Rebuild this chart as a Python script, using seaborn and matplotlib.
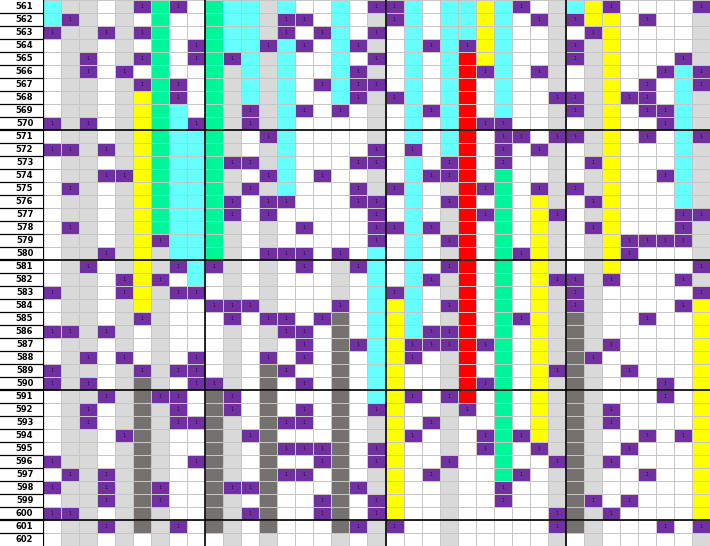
import numpy as np
import pandas as pd
import matplotlib
matplotlib.use("Agg")
import matplotlib.pyplot as plt
from matplotlib.colors import ListedColormap
import seaborn as sns

# row labels (left column)
row_labels = [
    "561", "562", "563", "564", "565", "566", "567", "568", "569", "570",
    "571", "572", "573", "574", "575", "576", "577", "578", "579", "580",
    "581", "582", "583", "584", "585", "586", "587", "588", "589", "590",
    "591", "592", "593", "594", "595", "596", "597", "598", "599", "600",
    "601", "602",
]

# cell states per row, one letter per column (37 columns)
# W white, G light gray, P purple "1", C cyan, N green, Y yellow, R red, D dark gray
cell_rows = [
    "CGGWGPNPWN" "CCGCWWCWPP" "CWCCYCPWGC" "YPWWWWP",
    "CPGWGWNWWN" "CCGPPWCWGP" "CWCCYCWPGP" "YYWPWWG",
    "PGGPGPNWWN" "CCGPWPCWPW" "CWCCYCWWGW" "PYWWWWG",
    "WGGWGWNWPN" "CCPCPWCPGW" "CPCPYCWWGP" "GYWWWWG",
    "WGPWGPNWPN" "PCGCWWCWPW" "CWCRYCWWGP" "GYWWWPG",
    "WGPWPWNWWN" "GCGCWWCPGW" "CWCRPCWPGW" "GYWWPCP",
    "WGGWGPNPWN" "GCGCWPCPPW" "CWCRWCWWGW" "GYWPWCP",
    "WGGWGYNPWN" "GCGCWWCPGP" "CWCRWCWWPP" "GYPPWCG",
    "WGGWGYNCWN" "GPGCPWPWGW" "CPCRWCWWGP" "GYWPPCG",
    "PGPWGYNCPN" "GPGCWWWWGW" "CWCRPPWWGW" "GYWWPCG",
    "WGGWGYNCCN" "GWPCWWWWGW" "CWCRWPPWPP" "GYWPWCP",
    "PPGPGYNCCN" "GWGCWWWWPW" "PWCRWPWPGW" "GYWWWCG",
    "WGGWGYNCCN" "PPGCWWWPPW" "CWPRWPWWGW" "PYWWWCG",
    "WGGPPYNCCN" "GWPCWPWWGW" "CPPRWNWWGW" "GYWWPCG",
    "WPGWGYNCCN" "GPGCWWWPGP" "CWGRPNWPGP" "GYWWWCG",
    "WGGWGYNCCN" "PWPPWWWPPW" "CWPRWNWYGW" "PYWWWCG",
    "WGGWGYNCCN" "PWPWWWWWPW" "CWGRPNWYPW" "GYWWWPP",
    "WPGWGYNCCN" "GWGWPWWWPP" "CPGRWNWYGW" "PYWWWPG",
    "WGGWGYPCCN" "GWGWWWWWPW" "CWPRWNWYGW" "GYPPPPG",
    "WGGPGYGCCN" "GWPPPWPWCW" "CWGRWNPYGW" "GYPWWWG",
    "WGPWGYGPCP" "GWGWPWGPCW" "CWPRWNWYGW" "GYWWWWP",
    "WGGWPYPWCW" "GWGWWWGWCW" "CPGRWNWYPP" "GPWWWPG",
    "PGGWPYGPPW" "GWGWWWGWCP" "CWGRWNWYGP" "GWWWWWP",
    "WGGWGYGWWP" "PPGWWWPWCY" "CWPRWNWYGP" "GWWWWPY",
    "WGGWGPGWWW" "PWPPWPDWCY" "CWGRWNPYGD" "GWWPWWY",
    "PPGPGWGWWW" "GWGPPWDWCY" "CPPRWNWYGD" "GWWWWWY",
    "WGGWGWGWWW" "GWGWPWDPCY" "PPPRPNWYGD" "GPWWWWY",
    "WGPWPWGWPW" "GWPWPWDWCY" "PWGRWNWYGD" "PWWWWWY",
    "PGGWGPGPPW" "GWDPWWDWCY" "WWGRWNWYPD" "GWPWWWY",
    "PGPWGDGWPP" "GWDWPWDWCY" "WWGRPNWYGD" "GWWWPWY",
    "WGGPGDPPWD" "PWDWWWDWCY" "PWPRWNWYGD" "GWWWPWY",
    "WGPWGDGPWD" "PWDWPWDWPY" "WWGPWNWYGD" "GPWWWWY",
    "WGPWGDGPPD" "GWDPPWDWGY" "WPGWWNWYGD" "GPWWWWY",
    "WGGWPDGWWD" "GPDWWWDWGY" "PWGWPNPYGD" "GWWPWPY",
    "WGGWGDGWWD" "GWDPPPDWPY" "WWGWPNWPGD" "GWPWWWY",
    "PGGWGDGWPD" "GWDWWPDWPY" "WWPWWNWWPD" "GPWWWWY",
    "WPGPGDGWWD" "GWDPPWDWGY" "WPGWWNPWGD" "GWWPWWY",
    "PGGPGDPWWD" "PPDWWWDPGY" "WWGWWPWWGD" "GWWWWWY",
    "WGGPGDPWWD" "GWDWWPDWPY" "WWGWWPWWGD" "PWPWWWY",
    "PPGWGDGWWD" "GPDWWPDWPY" "WWGWWWWWPD" "GPWWWWY",
    "WGGPGDGPWD" "GWDWWWDPGP" "WWGWWWWWPD" "GWWWPWP",
    "WGGWGWGWWW" "GWGWWWGWGW" "WWGWWWWWGW" "GWWWWWG",
]

state_codes = ["W", "G", "P", "C", "N", "Y", "R", "D"]
state_colors = ["#FFFFFF", "#D9D9D9", "#7030A0", "#66FFFF",
                "#00F59A", "#FFFF00", "#FF0000", "#767171"]

# build the table for the heatmap
code_index = {c: i for i, c in enumerate(state_codes)}
values = np.array([[code_index[c] for c in r] for r in cell_rows])
df = pd.DataFrame(values, index=row_labels)
annot = np.where(values == code_index["P"], "1", "")

fig = plt.figure(figsize=(7.1, 5.46), dpi=100)
fig.patch.set_facecolor("white")

# label column with black borders
ax_lab = fig.add_axes([0, 0, 43 / 710, 1], zorder=0)
ax_lab.set_xlim(0, 1)
ax_lab.set_ylim(len(row_labels), 0)
ax_lab.axis("off")
for k in range(1, len(row_labels)):
    lw = 1.6 if k % 10 == 0 else 0.9
    ax_lab.axhline(k, color="black", lw=lw)

ax = fig.add_axes([43 / 710, 0, 667 / 710, 1], zorder=1)
sns.heatmap(
    df,
    ax=ax,
    cmap=ListedColormap(state_colors),
    vmin=-0.5,
    vmax=len(state_codes) - 0.5,
    cbar=False,
    linewidths=0.7,
    linecolor="#C6C6C6",
    annot=annot,
    fmt="",
    annot_kws={"fontsize": 3.6, "color": "#2a1040"},
    xticklabels=False,
    yticklabels=row_labels,
)
ax.set_ylabel("")
ax.tick_params(axis="y", left=False, pad=3.5)
for lab in ax.get_yticklabels():
    lab.set_rotation(0)
    lab.set_fontsize(6)
    lab.set_fontweight("bold")
    lab.set_fontfamily("DejaVu Sans")

# block separators
for y in [10, 20, 30, 40]:
    ax.axhline(y, color="black", lw=1.2)
for x in [9, 19, 29]:
    ax.axvline(x, color="black", lw=1.2)
ax.axvline(0, color="black", lw=1.6)

fig.savefig("out.png", dpi=100)
